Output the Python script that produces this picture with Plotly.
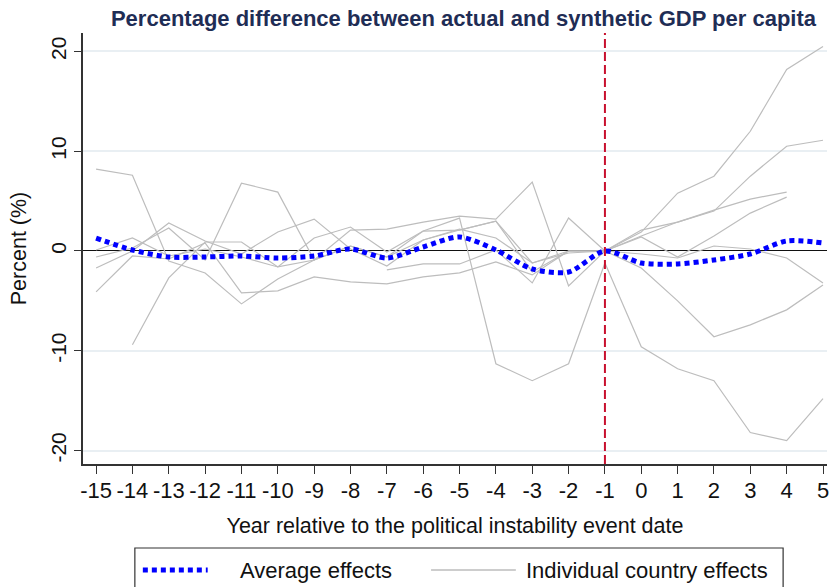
import plotly.graph_objects as go

# Years relative to the political instability event
years = list(range(-15, 6))

# Average effect across countries (percent)
average_effects = [1.3, 0.1, -0.6, -0.6, -0.5, -0.7, -0.5, 0.2, -0.7, 0.4, 1.4,
                   0.1, -1.8, -2.1, 0.0, -1.2, -1.3, -0.9, -0.3, 1.0, 0.8]

# Individual country effects (percent); None where a country has no estimate
country_a = [8.2, 7.6, -1.0, -2.2, -5.3, -2.8, -0.9, 0.5, -0.6, 1.1, 2.1,
             3.0, -2.1, 0.0, 0.0, 1.9, 5.8, 7.5, 12.0, 18.2, 20.5]
country_b = [-0.6, 0.3, 2.3, -0.9, 6.8, 5.9, -0.9, 2.1, 2.2, 2.9, 3.5,
             3.2, 6.9, -3.5, 0.0, 2.1, 2.9, 4.0, 7.5, 10.5, 11.1]
country_c = [0.1, 1.3, -0.5, 0.2, -0.6, -1.6, 1.3, 2.4, -0.1, 2.0, 3.3,
             -11.3, -13.0, -11.3, -1.2, -9.6, -11.8, -13.0, -18.2, -19.0, -14.8]
country_d = [-1.7, 0.0, 2.8, 1.0, -0.3, 1.9, 3.2, 0.2, -1.5, 1.1, 2.2,
             1.3, -1.2, -0.2, 0.0, 1.5, 2.9, 4.1, 5.2, 5.9, None]
country_e = [-4.1, -0.5, -0.8, 0.8, -4.2, -4.0, -2.6, -3.1, -3.3, -2.6, -2.2,
             -1.1, -2.4, 0.0, 0.0, 1.4, -0.6, 1.5, 3.8, 5.4, None]
country_f = [None, -9.4, -2.7, 0.9, 0.9, -1.6, -0.9, 0.5, -0.6, 2.0, 2.1,
             3.0, -1.2, 0.0, 0.0, -0.3, -0.7, 0.5, 0.2, -0.7, -3.2]
country_g = [None, None, None, None, None, None, None, None, -1.9, -1.3, -1.3,
             0.1, -3.2, 3.3, 0.0, -1.7, -5.0, -8.6, -7.4, -5.9, -3.4]

countries = [country_a, country_b, country_c, country_d, country_e, country_f, country_g]

y_ticks = [-20, -10, 0, 10, 20]
event_year = -1

FONT = "Liberation Sans, Arial, sans-serif"
GRAY = "#bdbdbd"
BLUE = "#0000ff"
BLUE_DASH = "5px,4px"

fig = go.Figure()

for vals in countries:
    fig.add_trace(go.Scatter(
        x=years, y=vals, mode="lines",
        line=dict(color=GRAY, width=1.2),
        connectgaps=False, showlegend=False, hoverinfo="skip",
    ))

fig.add_trace(go.Scatter(
    x=years, y=average_effects, mode="lines",
    line=dict(color=BLUE, width=5, dash=BLUE_DASH, shape="spline", smoothing=0.8),
    showlegend=False,
))

# Event date marker
fig.add_shape(type="line", xref="x", yref="paper", x0=event_year, x1=event_year,
              y0=0, y1=1, line=dict(color="#c8102e", width=2, dash="9px,4px"))

# Legend box drawn below the axis title
LEFT, BOTTOM, PW, PH = 83, 464, 746, 431


def px(xp):
    return (xp - LEFT) / PW


def py(yp):
    return (BOTTOM - yp) / PH


fig.add_shape(type="rect", xref="paper", yref="paper",
              x0=px(135), x1=px(785), y0=py(548), y1=py(620),
              line=dict(color="#333333", width=1.2), fillcolor="rgba(0,0,0,0)")
fig.add_shape(type="line", xref="paper", yref="paper",
              x0=px(143), x1=px(208), y0=py(570), y1=py(570),
              line=dict(color=BLUE, width=5, dash=BLUE_DASH))
fig.add_shape(type="line", xref="paper", yref="paper",
              x0=px(432), x1=px(517), y0=py(570), y1=py(570),
              line=dict(color=GRAY, width=1.5))
fig.add_annotation(xref="paper", yref="paper", x=px(238), y=py(570),
                   xanchor="left", yanchor="middle", showarrow=False,
                   text="Average effects", font=dict(family=FONT, size=22, color="#111"))
fig.add_annotation(xref="paper", yref="paper", x=px(525), y=py(570),
                   xanchor="left", yanchor="middle", showarrow=False,
                   text="Individual country effects", font=dict(family=FONT, size=22, color="#111"))

fig.update_layout(
    width=829, height=587,
    margin=dict(l=83, r=0, t=33, b=123),
    paper_bgcolor="white", plot_bgcolor="white",
    title=dict(text="<b>Percentage difference between actual and synthetic GDP per capita</b>",
               x=px(464.5), xref="paper", xanchor="center",
               y=1 - 18 / 587, yref="container", yanchor="middle",
               font=dict(family=FONT, size=22, color="#1f2d55")),
    xaxis=dict(
        range=[-15.36, 5.11], tickmode="array", tickvals=years,
        ticktext=[str(y) for y in years], tickangle=0,
        ticklabeloverflow="allow", ticklabelstandoff=-2,
        showgrid=False, zeroline=False,
        showline=True, linecolor="#333333", linewidth=1.5,
        ticks="outside", ticklen=8, tickwidth=1.2, tickcolor="#333333",
        tickfont=dict(family=FONT, size=22, color="#111"),
        title=dict(text="Year relative to the political instability event date",
                   font=dict(family=FONT, size=21.5, color="#111"), standoff=16),
    ),
    yaxis=dict(
        range=[-21.35, 21.85], tickmode="array", tickvals=y_ticks,
        ticktext=[str(v) for v in y_ticks], tickangle=-90,
        showgrid=True, gridcolor="#e9eff3", gridwidth=2,
        zeroline=True, zerolinecolor="#111111", zerolinewidth=1.3,
        showline=True, linecolor="#333333", linewidth=1.5,
        ticks="outside", ticklen=7, tickwidth=1.2, tickcolor="#333333",
        tickfont=dict(family=FONT, size=21, color="#111"),
        title=dict(text="Percent (%)", font=dict(family=FONT, size=21.5, color="#111"),
                   standoff=14),
    ),
)

fig.write_html("out.html")
